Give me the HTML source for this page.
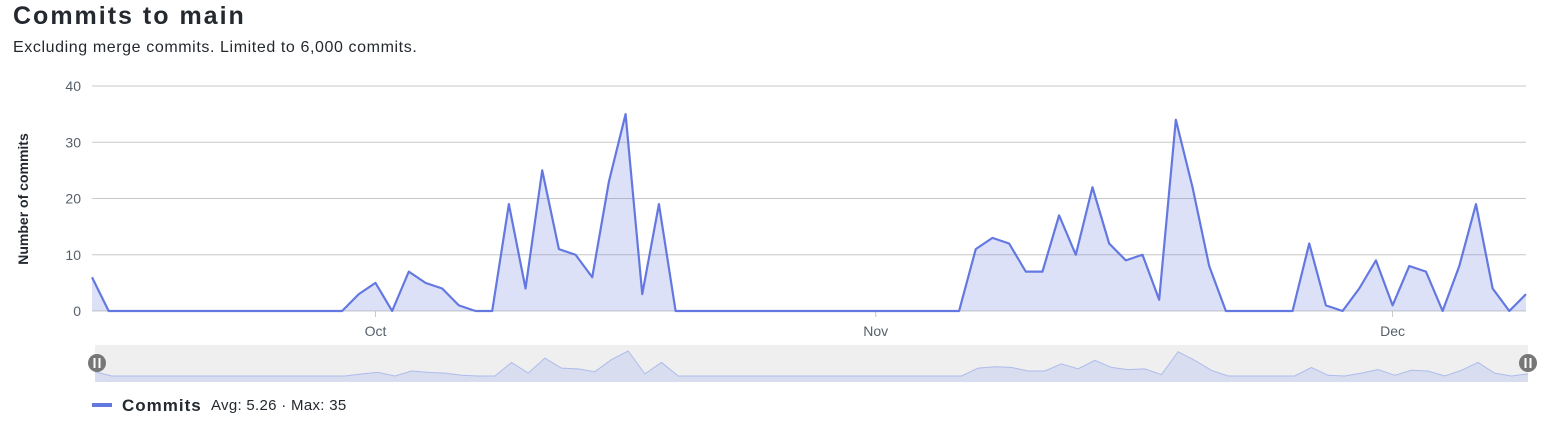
<!DOCTYPE html>
<html><head><meta charset="utf-8"><style>
body{margin:0;width:1557px;height:428px;background:#fff;font-family:"Liberation Sans",sans-serif;overflow:hidden;position:relative}
.t{position:absolute;left:13px;top:2px;font-size:25px;letter-spacing:2px;font-weight:600;color:#24292f}
.s{position:absolute;left:13px;top:39px;font-size:16px;letter-spacing:0.6px;color:#24292f}
svg{position:absolute;left:0;top:0}
</style></head><body>
<div class="t">Commits to main</div>
<div class="s">Excluding merge commits. Limited to 6,000 commits.</div>
<svg id="c" width="1557" height="428"></svg>
<script>
const values=[6,0,0,0,0,0,0,0,0,0,0,0,0,0,0,0,3,5,0,7,5,4,1,0,0,19,4,25,11,10,6,23,35,3,19,0,0,0,0,0,0,0,0,0,0,0,0,0,0,0,0,0,0,11,13,12,7,7,17,10,22,12,9,10,2,34,22,8,0,0,0,0,0,12,1,0,4,9,1,8,7,0,8,19,4,0,3];
const yTicks=[0,10,20,30,40];
const monthLabels=["Oct","Nov","Dec"];
const monthIdx=[17,47,78];
const NS="http://www.w3.org/2000/svg";
const svg=document.getElementById('c');
const X0=92,X1=1526,Y0=311,Y1=86;
const n=values.length;
const x=i=>X0+i*(X1-X0)/(n-1);
const y=v=>Y0-(v/40)*(Y0-Y1);
function mk(t,a){const e=document.createElementNS(NS,t);for(const k in a)e.setAttribute(k,a[k]);svg.appendChild(e);return e;}
yTicks.forEach(t=>{
 const l=mk('line',{x1:X0,x2:X1,y1:y(t),y2:y(t),stroke:'#c8c8c8','stroke-width':1});
 
 
 const tx=mk('text',{x:81,y:y(t)+5,'text-anchor':'end','font-size':14,fill:'#57606a'});
 tx.textContent=t;
 
 
});
const yt=mk('text',{x:0,y:0,transform:'translate(28,199) rotate(-90)','text-anchor':'middle','font-size':14,'font-weight':'bold',fill:'#24292f'});
yt.textContent='Number of commits';


monthIdx.forEach((m,k)=>{
 const l=mk('line',{x1:x(m),x2:x(m),y1:Y0,y2:Y0+6,stroke:'#c8c8c8'});
 
 
 const tx=mk('text',{x:x(m),y:336,'text-anchor':'middle','font-size':14,fill:'#57606a'});
 tx.textContent=monthLabels[k];
 
 
});
let pts=values.map((v,i)=>x(i)+','+y(v)).join(' ');
const area=mk('polygon',{points:x(0)+','+Y0+' '+pts+' '+x(n-1)+','+Y0,fill:'#6378e0','fill-opacity':0.22});


const line=mk('polyline',{points:pts,fill:'none',stroke:'#6378e0','stroke-width':2.2,'stroke-linejoin':'round'});


const NX0=95,NX1=1528,NT=345,NB=382,NZ=376;
const nx=i=>NX0+i*(NX1-NX0)/(n-1);
const ny=v=>NZ-v*0.714;
const nb=mk('rect',{x:NX0,y:NT,width:NX1-NX0,height:NB-NT,fill:'#efefef'});


let np=values.map((v,i)=>nx(i)+','+ny(v)).join(' ');
const na=mk('polygon',{points:nx(0)+','+NB+' '+np+' '+nx(n-1)+','+NB,fill:'#c8d0ee','fill-opacity':0.6});


const nl=mk('polyline',{points:np,fill:'none',stroke:'#aebcec','stroke-width':1});


[[97,'navigator-handle-left'],[1528,'navigator-handle-right']].forEach(([hx,nm])=>{
 const c=mk('circle',{cx:hx,cy:363,r:9,fill:'#777'});
 
 
 mk('rect',{x:hx-3.5,y:358,width:2,height:10,fill:'#fff'});
 mk('rect',{x:hx+1.5,y:358,width:2,height:10,fill:'#fff'});
});
const lg=mk('rect',{x:92,y:403,width:20,height:4,fill:'#6378e0'});


const lt=mk('text',{x:122,y:411,'font-size':17,'font-weight':'bold','letter-spacing':1,fill:'#24292f'});
lt.textContent='Commits';


const ls=mk('text',{x:211,y:410,'font-size':15,'letter-spacing':0.3,fill:'#24292f'});
ls.textContent='Avg: 5.26 · Max: 35';


</script>
</body></html>
